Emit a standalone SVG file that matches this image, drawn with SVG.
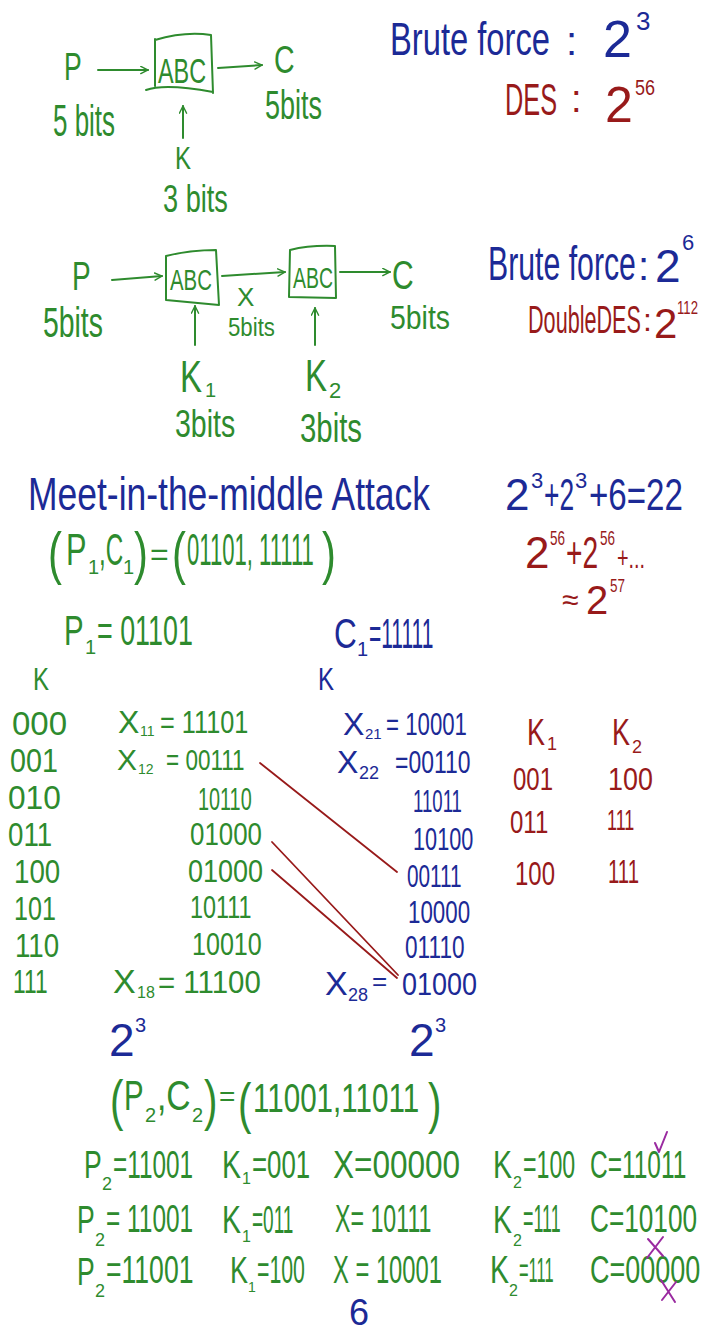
<svg xmlns="http://www.w3.org/2000/svg" width="709" height="1337" viewBox="0 0 709 1337">
<defs>
<style>
text{font-family:"Liberation Sans","DejaVu Sans",sans-serif;}
.g{fill:#2e8b2e}.b{fill:#1c2a96}.r{fill:#981a1a}
.gs{stroke:#2e8b2e;stroke-width:2;fill:none;stroke-linecap:round;stroke-linejoin:round}
.rs{stroke:#981a1a;stroke-width:1.8;fill:none;stroke-linecap:round}
.ps{stroke:#9a2aa0;stroke-width:2;fill:none;stroke-linecap:round;stroke-linejoin:round}
</style>
<marker id="ah" viewBox="0 0 10 10" refX="9" refY="5" markerWidth="9" markerHeight="9" orient="auto" markerUnits="userSpaceOnUse">
<path d="M1,1 L9,5 L1,9" stroke="#2e8b2e" stroke-width="1.6" fill="none" stroke-linecap="round"/>
</marker>
</defs>
<rect width="709" height="1337" fill="#ffffff"/>

<!-- Section 1: single cipher -->
<g id="p1"><text class="g" transform="translate(64,80) scale(0.7,1)" font-size="38">P</text><text class="g" transform="translate(53,136) scale(0.59,1)" font-size="44">5 bits</text></g>
<g id="abc1"><path class="gs" d="M155,39 L155,86 M155,40 Q185,31 211,35 L213,93 M146,90 Q165,83 213,92"/><text class="g" transform="translate(158,83) scale(0.65,1)" font-size="36">ABC</text></g>
<g id="c1"><text class="g" transform="translate(274,73) scale(0.75,1)" font-size="38">C</text><text class="g" transform="translate(265,119) scale(0.675,1)" font-size="40">5bits</text></g>
<g id="k0"><text class="g" transform="translate(175,169) scale(0.75,1)" font-size="32">K</text><text class="g" transform="translate(163,212) scale(0.715,1)" font-size="38">3 bits</text></g>
<g id="bf1">
<text class="b" transform="translate(390,55) scale(0.711,1)" font-size="46">Brute force</text>
<text class="b" x="566" y="55" font-size="40">:</text>
<text class="b" x="603" y="57" font-size="52">2</text>
<text class="b" x="636" y="30" font-size="26">3</text>
<text class="r" transform="translate(505,115) scale(0.575,1)" font-size="44">DES</text>
<text class="r" x="571" y="112" font-size="38">:</text>
<text class="r" x="605" y="122" font-size="50">2</text>
<text class="r" transform="translate(635,95) scale(0.82,1)" font-size="22">56</text>
</g>

<!-- Section 2: double cipher -->
<g id="p2"><text class="g" transform="translate(72,290) scale(0.7,1)" font-size="40">P</text><text class="g" transform="translate(43,337) scale(0.676,1)" font-size="42">5bits</text></g>
<g id="abc2"><path class="gs" d="M166,256 L166,300 L219,305 L216,250 Q190,250 166,256"/><text class="g" transform="translate(170,290) scale(0.68,1)" font-size="30">ABC</text></g>
<g id="x2"><text class="g" x="237" y="306" font-size="26">X</text><text class="g" transform="translate(228,336) scale(0.855,1)" font-size="26">5bits</text></g>
<g id="abc3"><path class="gs" d="M290,250 L289,297 L336,298 L335,246 Q310,245 290,250"/><text class="g" transform="translate(293,288) scale(0.648,1)" font-size="30">ABC</text></g>
<g id="c2"><text class="g" transform="translate(392,289) scale(0.75,1)" font-size="40">C</text><text class="g" transform="translate(390,329) scale(0.835,1)" font-size="34">5bits</text></g>
<g id="k1"><text class="g" transform="translate(180,392) scale(0.75,1)" font-size="44">K</text><text class="g" x="205" y="397" font-size="20">1</text><text class="g" transform="translate(175,437) scale(0.75,1)" font-size="38">3bits</text></g>
<g id="k2"><text class="g" transform="translate(305,391) scale(0.75,1)" font-size="44">K</text><text class="g" x="329" y="398" font-size="22">2</text><text class="g" transform="translate(300,442) scale(0.734,1)" font-size="40">3bits</text></g>
<g id="bf2">
<text class="b" transform="translate(488,280) scale(0.63,1)" font-size="48">Brute force</text>
<text class="b" x="638" y="280" font-size="40">:</text>
<text class="b" x="655" y="282" font-size="46">2</text>
<text class="b" x="682" y="250" font-size="22">6</text>
<text class="r" transform="translate(528,333) scale(0.569,1)" font-size="38">DoubleDES</text>
<text class="r" x="643" y="331" font-size="32">:</text>
<text class="r" x="654" y="338" font-size="42">2</text>
<text class="r" transform="translate(677,314) scale(0.73,1)" font-size="18">112</text>
</g>

<g id="connectors">
<line class="gs" x1="98" y1="70" x2="148" y2="70" marker-end="url(#ah)"/>
<line class="gs" x1="218" y1="68" x2="262" y2="65" marker-end="url(#ah)"/>
<line class="gs" x1="183" y1="138" x2="183" y2="106" marker-end="url(#ah)"/>
<line class="gs" x1="112" y1="280" x2="162" y2="276" marker-end="url(#ah)"/>
<line class="gs" x1="222" y1="276" x2="285" y2="272" marker-end="url(#ah)"/>
<line class="gs" x1="340" y1="272" x2="390" y2="272" marker-end="url(#ah)"/>
<line class="gs" x1="195" y1="345" x2="195" y2="306" marker-end="url(#ah)"/>
<line class="gs" x1="315" y1="345" x2="315" y2="308" marker-end="url(#ah)"/>
<line class="rs" x1="260" y1="763" x2="397" y2="872"/>
<line class="rs" x1="272" y1="842" x2="398" y2="975"/>
<line class="rs" x1="272" y1="870" x2="397" y2="978"/>
</g>

<!-- Section 3: meet in the middle -->
<g id="title">
<text class="b" transform="translate(28,510) scale(0.771,1)" font-size="46">Meet-in-the-middle Attack</text>
</g>
<g id="calc1">
<text class="b" x="505" y="510" font-size="44">2</text>
<text class="b" x="531" y="488" font-size="22">3</text>
<text class="b" transform="translate(544,510) scale(0.6,1)" font-size="44">+2</text>
<text class="b" x="575" y="488" font-size="22">3</text>
<text class="b" transform="translate(589,510) scale(0.753,1)" font-size="44">+6=22</text>
</g>
<g id="calc2">
<text class="r" x="525" y="568" font-size="44">2</text>
<text class="r" transform="translate(550,545) scale(0.675,1)" font-size="20">56</text>
<text class="r" transform="translate(566,568) scale(0.64,1)" font-size="44">+2</text>
<text class="r" transform="translate(600,545) scale(0.675,1)" font-size="20">56</text>
<text class="r" transform="translate(617,568) scale(0.66,1)" font-size="30">+...</text>
<text class="r" x="562" y="610" font-size="30">≈</text>
<text class="r" x="586" y="614" font-size="40">2</text>
<text class="r" transform="translate(610,592) scale(0.75,1)" font-size="18">57</text>
</g>
<g id="pair1">
<text class="g" transform="translate(48,573) scale(0.72,1)" font-size="58">(</text>
<text class="g" transform="translate(66,565) scale(0.7,1)" font-size="44">P</text>
<text class="g" x="88" y="574" font-size="20">1</text>
<text class="g" transform="translate(99,565) scale(0.55,1)" font-size="44">,C</text>
<text class="g" x="123" y="574" font-size="20">1</text>
<text class="g" transform="translate(134,573) scale(0.72,1)" font-size="58">)</text>
<text class="g" x="150" y="565" font-size="32">=</text>
<text class="g" transform="translate(172,573) scale(0.72,1)" font-size="58">(</text>
<text class="g" transform="translate(187,565) scale(0.502,1)" font-size="44">01101, 11111</text>
<text class="g" transform="translate(322,573) scale(0.72,1)" font-size="58">)</text>
</g>
<g id="p1val"><text class="g" transform="translate(64,645) scale(0.7,1)" font-size="42">P</text><text class="g" x="85" y="654" font-size="20">1</text><text class="g" transform="translate(97,645) scale(0.64,1)" font-size="42">= 01101</text></g>
<g id="c1val"><text class="b" transform="translate(334,648) scale(0.75,1)" font-size="42">C</text><text class="b" x="357" y="656" font-size="20">1</text><text class="b" transform="translate(369,648) scale(0.5,1)" font-size="42">=11111</text></g>

<g id="kcol">
<text class="g" transform="translate(33,690) scale(0.75,1)" font-size="32">K</text>
<text class="g" transform="translate(12,735) scale(1.0,1)" font-size="33">000</text>
<text class="g" transform="translate(10,772) scale(0.87,1)" font-size="33">001</text>
<text class="g" transform="translate(8,809) scale(0.96,1)" font-size="33">010</text>
<text class="g" transform="translate(8,846) scale(0.84,1)" font-size="33">011</text>
<text class="g" transform="translate(14,883) scale(0.84,1)" font-size="33">100</text>
<text class="g" transform="translate(14,920) scale(0.76,1)" font-size="33">101</text>
<text class="g" transform="translate(15,957) scale(0.84,1)" font-size="33">110</text>
<text class="g" transform="translate(13,993) scale(0.69,1)" font-size="33">111</text>
</g>
<g id="xcol1">
<text class="g" x="118" y="733" font-size="32">X</text><text class="g" x="140" y="736" font-size="14">11</text>
<text class="g" transform="translate(160,733) scale(0.79,1)" font-size="32">= 11101</text>
<text class="g" x="117" y="770" font-size="30">X</text><text class="g" x="138" y="774" font-size="14">12</text>
<text class="g" transform="translate(166,770) scale(0.75,1)" font-size="30">= 00111</text>
<text class="g" transform="translate(198,810) scale(0.64,1)" font-size="31">10110</text>
<text class="g" transform="translate(190,845) scale(0.835,1)" font-size="31">01000</text>
<text class="g" transform="translate(188,882) scale(0.87,1)" font-size="31">01000</text>
<text class="g" transform="translate(190,918) scale(0.754,1)" font-size="31">10111</text>
<text class="g" transform="translate(192,955) scale(0.81,1)" font-size="31">10010</text>
<text class="g" x="113" y="993" font-size="34">X</text><text class="g" x="137" y="998" font-size="16">18</text>
<text class="g" transform="translate(158,993) scale(0.95,1)" font-size="31">= 11100</text>
</g>
<g id="xcol2">
<text class="b" transform="translate(318,690) scale(0.75,1)" font-size="32">K</text>
<text class="b" x="343" y="735" font-size="32">X</text><text class="b" x="365" y="739" font-size="15">21</text>
<text class="b" transform="translate(386,735) scale(0.695,1)" font-size="32">= 10001</text>
<text class="b" x="337" y="773" font-size="32">X</text><text class="b" x="359" y="779" font-size="18">22</text>
<text class="b" transform="translate(395,773) scale(0.74,1)" font-size="31">=00110</text>
<text class="b" transform="translate(413,812) scale(0.6,1)" font-size="31">11011</text>
<text class="b" transform="translate(413,850) scale(0.7,1)" font-size="31">10100</text>
<text class="b" transform="translate(407,887) scale(0.67,1)" font-size="31">00111</text>
<text class="b" transform="translate(408,923) scale(0.72,1)" font-size="31">10000</text>
<text class="b" transform="translate(405,958) scale(0.73,1)" font-size="31">01110</text>
<text class="b" x="325" y="995" font-size="34">X</text><text class="b" x="348" y="1001" font-size="18">28</text>
<text class="b" x="372" y="990" font-size="26">=</text>
<text class="b" transform="translate(402,995) scale(0.87,1)" font-size="31">01000</text>
</g>
<g id="keys">
<text class="r" transform="translate(527,745) scale(0.75,1)" font-size="36">K</text><text class="r" x="547" y="750" font-size="18">1</text>
<text class="r" transform="translate(612,745) scale(0.75,1)" font-size="36">K</text><text class="r" x="632" y="753" font-size="18">2</text>
<text class="r" transform="translate(513,790) scale(0.75,1)" font-size="32">001</text>
<text class="r" transform="translate(608,790) scale(0.84,1)" font-size="32">100</text>
<text class="r" transform="translate(510,833) scale(0.75,1)" font-size="32">011</text>
<text class="r" transform="translate(607,830) scale(0.6,1)" font-size="30">111</text>
<text class="r" transform="translate(515,885) scale(0.705,1)" font-size="34">100</text>
<text class="r" transform="translate(608,883) scale(0.6,1)" font-size="34">111</text>
</g>
<g id="counts">
<text class="b" x="109" y="1056" font-size="46">2</text><text class="b" x="135" y="1032" font-size="20">3</text>
<text class="b" x="409" y="1056" font-size="46">2</text><text class="b" x="435" y="1032" font-size="20">3</text>
</g>
<g id="pair2">
<text class="g" transform="translate(110,1119) scale(0.72,1)" font-size="56">(</text>
<text class="g" transform="translate(124,1110) scale(0.7,1)" font-size="42">P</text>
<text class="g" x="145" y="1122" font-size="20">2</text>
<text class="g" transform="translate(157,1110) scale(0.8,1)" font-size="42">,C</text>
<text class="g" x="192" y="1122" font-size="20">2</text>
<text class="g" transform="translate(204,1119) scale(0.72,1)" font-size="56">)</text>
<text class="g" x="219" y="1106" font-size="28">=</text>
<text class="g" transform="translate(238,1122) scale(0.72,1)" font-size="56">(</text>
<text class="g" transform="translate(253,1112) scale(0.74,1)" font-size="40">11001,11011</text>
<text class="g" transform="translate(428,1122) scale(0.72,1)" font-size="56">)</text>
</g>
<g id="row1">
<text class="g" transform="translate(84,1178) scale(0.7,1)" font-size="38">P</text><text class="g" x="102" y="1190" font-size="18">2</text>
<text class="g" transform="translate(113,1178) scale(0.64,1)" font-size="38">=11001</text>
<text class="g" transform="translate(222,1178) scale(0.75,1)" font-size="38">K</text><text class="g" x="242" y="1184" font-size="16">1</text>
<text class="g" transform="translate(252,1178) scale(0.68,1)" font-size="38">=001</text>
<text class="g" transform="translate(333,1178) scale(0.83,1)" font-size="38">X=00000</text>
<text class="g" transform="translate(493,1178) scale(0.75,1)" font-size="38">K</text><text class="g" x="513" y="1188" font-size="16">2</text>
<text class="g" transform="translate(523,1178) scale(0.61,1)" font-size="38">=100</text>
<text class="g" transform="translate(590,1178) scale(0.644,1)" font-size="38">C=11011</text>
</g>
<g id="row2">
<text class="g" transform="translate(77,1233) scale(0.7,1)" font-size="38">P</text><text class="g" x="95" y="1246" font-size="18">2</text>
<text class="g" transform="translate(106,1232) scale(0.643,1)" font-size="38">= 11001</text>
<text class="g" transform="translate(222,1233) scale(0.75,1)" font-size="38">K</text><text class="g" x="242" y="1242" font-size="16">1</text>
<text class="g" transform="translate(252,1233) scale(0.5,1)" font-size="38">=011</text>
<text class="g" transform="translate(335,1232) scale(0.61,1)" font-size="38">X= 10111</text>
<text class="g" transform="translate(493,1233) scale(0.75,1)" font-size="38">K</text><text class="g" x="513" y="1246" font-size="16">2</text>
<text class="g" transform="translate(523,1232) scale(0.47,1)" font-size="38">=111</text>
<text class="g" transform="translate(590,1232) scale(0.69,1)" font-size="38">C=10100</text>
</g>
<g id="row3">
<text class="g" transform="translate(77,1285) scale(0.7,1)" font-size="38">P</text><text class="g" x="95" y="1297" font-size="18">2</text>
<text class="g" transform="translate(106,1283) scale(0.7,1)" font-size="38">=11001</text>
<text class="g" transform="translate(230,1283) scale(0.75,1)" font-size="36">K</text><text class="g" x="248" y="1292" font-size="14">1</text>
<text class="g" transform="translate(257,1283) scale(0.56,1)" font-size="38">=100</text>
<text class="g" transform="translate(333,1283) scale(0.625,1)" font-size="38">X = 10001</text>
<text class="g" transform="translate(490,1283) scale(0.75,1)" font-size="38">K</text><text class="g" x="509" y="1296" font-size="16">2</text>
<text class="g" transform="translate(519,1282) scale(0.457,1)" font-size="36">=111</text>
<text class="g" transform="translate(590,1283) scale(0.71,1)" font-size="38">C=00000</text>
</g>
<g id="marks">
<path class="ps" d="M655,1143 L659,1152 L667,1132"/>
<path class="ps" d="M648,1239 L663,1256 M663,1237 L647,1258"/>
<path class="ps" d="M661,1280 L675,1302 M676,1282 L662,1300"/>
</g>
<g id="page"><text class="b" x="349" y="1325" font-size="36">6</text></g>
</svg>
